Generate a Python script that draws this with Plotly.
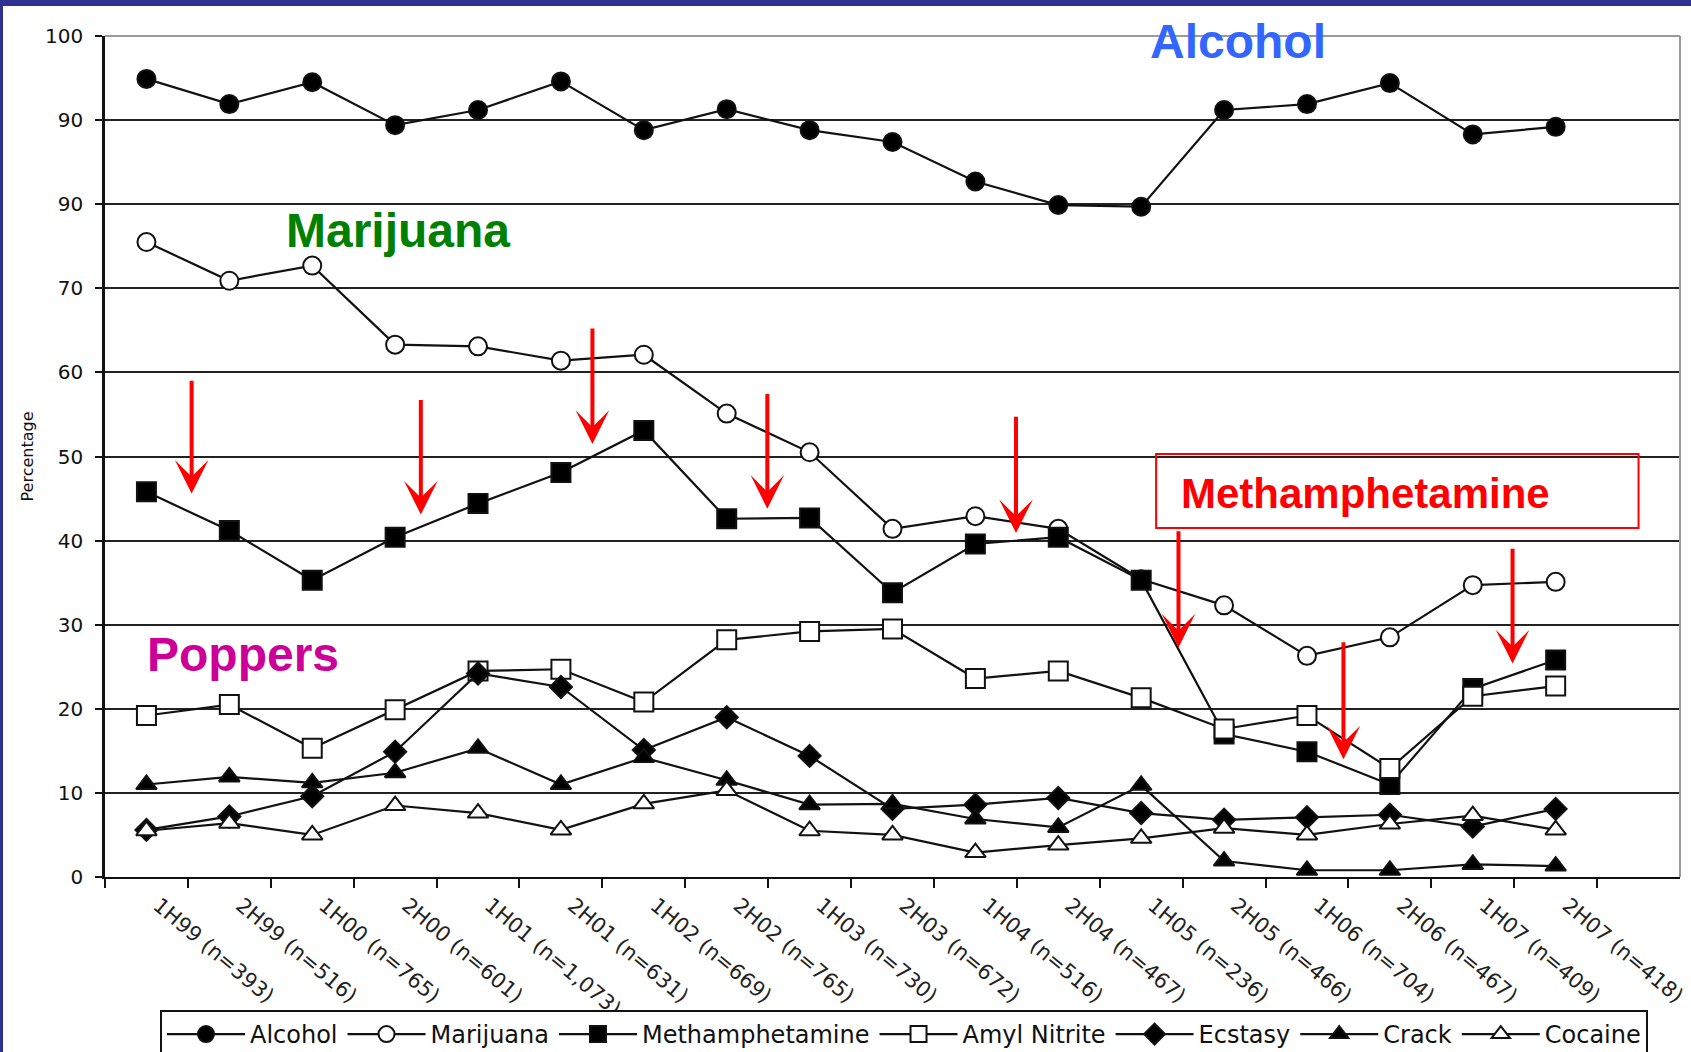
import plotly.graph_objects as go

# ---------------- data ----------------
categories = ["1H99 (n=393)", "2H99 (n=516)", "1H00 (n=765)", "2H00 (n=601)",
              "1H01 (n=1,073)", "2H01 (n=631)", "1H02 (n=669)", "2H02 (n=765)",
              "1H03 (n=730)", "2H03 (n=672)", "1H04 (n=516)", "2H04 (n=467)",
              "1H05 (n=236)", "2H05 (n=466)", "1H06 (n=704)", "2H06 (n=467)",
              "1H07 (n=409)", "2H07 (n=418)"]

alcohol = [94.9, 91.9, 94.5, 89.4, 91.2, 94.6, 88.8, 91.3, 88.8, 87.4,
           82.7, 79.9, 79.7, 91.2, 91.9, 94.4, 88.3, 89.2]
marijuana = [75.5, 70.9, 72.7, 63.3, 63.1, 61.4, 62.1, 55.1, 50.5, 41.4,
             42.9, 41.4, 35.4, 32.3, 26.3, 28.5, 34.7, 35.1]
methamphetamine = [45.8, 41.2, 35.3, 40.4, 44.4, 48.1, 53.1, 42.6, 42.7, 33.8,
                   39.6, 40.4, 35.3, 17.0, 14.9, 11.0, 22.4, 25.8]
amyl_nitrite = [19.2, 20.5, 15.3, 19.9, 24.5, 24.7, 20.8, 28.2, 29.2, 29.5,
                23.6, 24.5, 21.3, 17.6, 19.2, 12.9, 21.5, 22.7]
ecstasy = [5.6, 7.2, 9.6, 14.9, 24.2, 22.6, 15.1, 19.0, 14.4, 8.1,
           8.6, 9.4, 7.6, 6.8, 7.1, 7.4, 6.0, 8.1]
crack = [11.0, 11.9, 11.2, 12.4, 15.3, 11.0, 14.2, 11.5, 8.6, 8.7,
         6.9, 5.9, 10.9, 1.9, 0.8, 0.8, 1.5, 1.3]
cocaine = [5.5, 6.4, 5.0, 8.5, 7.6, 5.6, 8.7, 10.3, 5.5, 5.0,
           2.9, 3.8, 4.6, 5.8, 5.0, 6.3, 7.3, 5.6]

y_tickvals = [0, 10, 20, 30, 40, 50, 60, 70, 80, 90, 100]
y_ticktext = ["0", "10", "20", "30", "40", "50", "60", "70", "90", "90", "100"]

# ---------------- layout constants ----------------
W, H = 1691, 1052
ML, MR, MT, MB = 105, 11, 36, 175
PW, PH = W - ML - MR, H - MT - MB
NAVY = "#2E3192"
FONT = "DejaVu Sans"

x_idx = list(range(len(categories)))

series = [
    ("Alcohol", alcohol, "circle", "black", 18),
    ("Marijuana", marijuana, "circle", "white", 18),
    ("Methamphetamine", methamphetamine, "square", "black", 19),
    ("Amyl Nitrite", amyl_nitrite, "square", "white", 19),
    ("Ecstasy", ecstasy, "diamond", "black", 17),
    ("Crack", crack, "triangle-up", "black", 18),
    ("Cocaine", cocaine, "triangle-up", "white", 18),
]

fig = go.Figure()
for name, vals, sym, fill, size in series:
    fig.add_trace(go.Scatter(
        x=x_idx, y=vals, name=name, mode="lines+markers",
        line=dict(color="#111111", width=2.2),
        marker=dict(symbol=sym, size=size, color=fill,
                    line=dict(color="#111111", width=2)),
        cliponaxis=False,
    ))

# ---------------- annotations ----------------
annotations = [
    dict(x=13.17, y=99.4, text="<b>Alcohol</b>", showarrow=False,
         font=dict(family="Liberation Sans", size=48, color="#3366FF")),
    dict(x=3.04, y=76.9, text="<b>Marijuana</b>", showarrow=False,
         font=dict(family="Liberation Sans", size=48, color="#008000")),
    dict(x=1.17, y=26.5, text="<b>Poppers</b>", showarrow=False,
         font=dict(family="Liberation Sans", size=48, color="#CC0099")),
    dict(x=14.7, y=45.6, text="<b>Methamphetamine</b>", showarrow=False,
         font=dict(family="Liberation Sans", size=42, color="#FF0000")),
]

arrows = [  # (x, tail y, tip y)
    (0.545, 59.2, 45.6), (3.31, 56.9, 43.1), (5.38, 65.4, 51.5),
    (7.49, 57.6, 43.8), (10.49, 54.9, 40.9), (12.45, 41.3, 27.3),
    (14.44, 28.1, 14.0), (16.48, 39.2, 25.4),
]
for ax_, y0, y1 in arrows:
    annotations.append(dict(
        x=ax_, y=y1, ax=ax_, ay=y0, xref="x", yref="y", axref="x", ayref="y",
        text="", showarrow=True, arrowhead=3, arrowsize=1.4, arrowwidth=4,
        arrowcolor="#FF0000"))

shapes = [
    # Methamphetamine box
    dict(type="rect", xref="x", yref="y", x0=12.18, x1=18.0, y0=41.5, y1=50.3,
         line=dict(color="#FF0000", width=2), layer="above"),
    # grey top line and right border
    dict(type="line", xref="paper", yref="paper", x0=0, x1=1, y0=1, y1=1,
         line=dict(color="#9a9a9a", width=2), layer="above"),
    dict(type="line", xref="paper", yref="paper", x0=1, x1=1, y0=0, y1=1,
         line=dict(color="#9a9a9a", width=2), layer="above"),
    # navy frame: top bar and left strip
    dict(type="rect", xref="paper", yref="paper",
         x0=-ML / PW, x1=(W - ML) / PW, y0=1 + (MT - 6) / PH, y1=1 + MT / PH,
         fillcolor=NAVY, line=dict(width=0), layer="above"),
    dict(type="rect", xref="paper", yref="paper",
         x0=-ML / PW, x1=(3 - ML) / PW, y0=-MB / PH, y1=1 + MT / PH,
         fillcolor=NAVY, line=dict(width=0), layer="above"),
]

fig.update_layout(
    width=W, height=H,
    margin=dict(l=ML, r=MR, t=MT, b=MB, autoexpand=False),
    paper_bgcolor="white", plot_bgcolor="white",
    font=dict(family=FONT, color="#111111"),
    showlegend=True,
    legend=dict(orientation="h", x=(160 - ML) / PW, xanchor="left",
                y=-(1010 - MT - PH) / PH, yanchor="top",
                font=dict(family=FONT, size=24, color="#111111"),
                bordercolor="#111111", borderwidth=2, bgcolor="white",
                itemwidth=78, tracegroupgap=0),
    annotations=annotations,
    shapes=shapes,
    xaxis=dict(
        range=[-0.5, 18.5], tickmode="array", tickvals=x_idx, ticktext=categories,
        tickangle=40, ticks="", showgrid=False, zeroline=False,
        showline=True, linecolor="#111111", linewidth=2,
        tickfont=dict(family=FONT, size=21, color="#222222"),
        ticklabelstandoff=6, ticklabelshift=12,
        minor=dict(tickmode="array", tickvals=[i - 0.5 for i in range(19)],
                   ticks="outside", ticklen=9, tickwidth=2, tickcolor="#111111",
                   showgrid=False),
        automargin=False, fixedrange=True,
    ),
    yaxis=dict(
        range=[0, 100], tickmode="array", tickvals=y_tickvals, ticktext=y_ticktext,
        ticks="outside", ticklen=7, tickwidth=2, tickcolor="#111111",
        showgrid=True, gridcolor="#222222", gridwidth=1.6,
        zeroline=False, showline=True, linecolor="#111111", linewidth=2.5,
        tickfont=dict(family=FONT, size=20, color="#111111"),
        ticklabelstandoff=8,
        title=dict(text="Percentage", font=dict(family=FONT, size=16),
                   standoff=8),
        automargin=False, fixedrange=True,
    ),
)

fig.write_html("out.html", config={"displayModeBar": False},
               post_script="document.body.style.margin='0';")
